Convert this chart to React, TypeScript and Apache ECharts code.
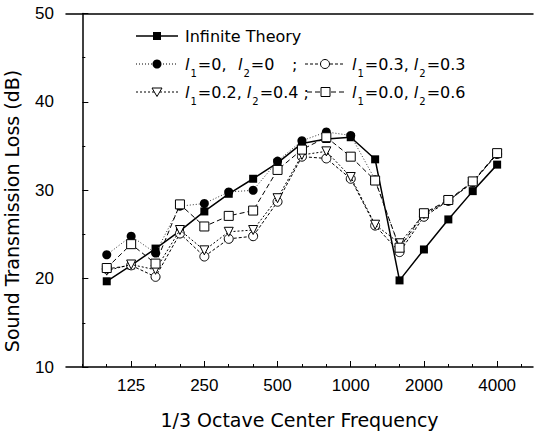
import React, { useEffect, useRef } from "react";
import * as echarts from "echarts";

// 1/3-octave bands along the axis (tick positions)
const axisFreqs = [80, 100, 125, 160, 200, 250, 315, 400, 500, 630, 800, 1000, 1250, 1600, 2000, 2500, 3150, 4000, 5000];
// measured bands
const dataFreqs = [100, 125, 160, 200, 250, 315, 400, 500, 630, 800, 1000, 1250, 1600, 2000, 2500, 3150, 4000];
const tickLabels = ["125", "250", "500", "1000", "2000", "4000"];
const yTicks = [10, 20, 30, 40, 50];

const infiniteTheory = [19.7, 21.5, 23.4, 25.4, 27.6, 29.6, 31.3, 33.1, 35.3, 35.8, 36.0, 33.5, 19.8, 23.3, 26.7, 29.9, 32.9];
const l1_0_l2_0 = [22.7, 24.8, 22.9, 28.2, 28.5, 29.8, 30.0, 33.3, 35.6, 36.6, 36.2, 31.2, 23.4, 27.2, 28.8, 30.9, 34.1];
const l1_03_l2_03 = [21.1, 21.5, 20.2, 25.1, 22.5, 24.5, 24.8, 28.7, 33.8, 33.6, 31.3, 26.0, 23.0, 27.0, 28.8, 30.9, 34.1];
const l1_02_l2_04 = [20.9, 21.6, 21.0, 25.5, 23.2, 25.3, 25.5, 29.1, 34.0, 34.4, 31.5, 26.1, 24.0, 27.3, 28.8, 30.9, 34.1];
const l1_00_l2_06 = [21.2, 23.9, 21.7, 28.4, 25.9, 27.1, 27.7, 32.3, 34.6, 36.0, 33.8, 31.1, 23.5, 27.4, 28.9, 31.0, 34.2];

const NUM_FONT = "Liberation Sans";
const TXT_FONT = "DejaVu Sans";

const toPts = (vals: number[]) => vals.map((v, i) => [axisFreqs.indexOf(dataFreqs[i]), v]);

const SUB_PAD = 18;
const rich = {
  t: { fontFamily: TXT_FONT, fontSize: 16, color: "#000", lineHeight: 20 },
  i: { fontFamily: TXT_FONT, fontSize: 16, fontStyle: "italic", color: "#000", lineHeight: 20 },
  s: { fontFamily: TXT_FONT, fontSize: 10, color: "#000", lineHeight: 10, padding: [SUB_PAD, 1, 0, 1] },
};

function legendText(x: number, y: number, text: string) {
  return {
    type: "text",
    x,
    y: y - 10,
    style: { text, rich, verticalAlign: "top", align: "left", fontFamily: TXT_FONT, fontSize: 16, fill: "#000" },
  };
}

function legendLine(x1: number, x2: number, y: number, dash: any, width = 1) {
  return {
    type: "line",
    shape: { x1, y1: y, x2, y2: y },
    style: { stroke: "#000", lineWidth: width, lineDash: dash },
  };
}

export default function App() {
  const ref = useRef<HTMLDivElement>(null);
  useEffect(() => {
    if (!ref.current) return;
    const chart = echarts.init(ref.current, undefined, { renderer: "svg" });
    const xMin = -0.67;
    const xMax = 18.47;
    const majorIdx = tickLabels.map((l) => axisFreqs.indexOf(Number(l)));
    const allIdx = axisFreqs.map((_, i) => i);

    const r1 = 36, r2 = 64, r3 = 92;
    const graphic: any[] = [
      {
        type: "text",
        x: 12,
        y: 211,
        rotation: Math.PI / 2,
        style: { text: "Sound Transmission Loss (dB)", fontFamily: TXT_FONT, fontSize: 19, fill: "#000", align: "center", verticalAlign: "middle" },
      },
      // row 1
      legendLine(136, 178, r1, null, 1.5),
      { type: "rect", shape: { x: 153, y: r1 - 4, width: 8, height: 8 }, style: { fill: "#000" } },
      legendText(185, r1, "{t|Infinite Theory}"),
      // row 2
      legendLine(136, 178, r2, [1, 2], 1),
      { type: "circle", shape: { cx: 157, cy: r2, r: 4.5 }, style: { fill: "#000" } },
      legendText(185, r2, "{i|l}{s|1}{t|=0,}"),
      legendText(238, r2, "{i|l}{s|2}{t|=0}"),
      legendText(292, r2, "{t|;}"),
      legendLine(305, 345, r2, [3, 2], 1),
      { type: "circle", shape: { cx: 325, cy: r2, r: 4.5 }, style: { fill: "#fff", stroke: "#000", lineWidth: 1 } },
      legendText(352, r2, "{i|l}{s|1}{t|=0.3, }{i|l}{s|2}{t|=0.3}"),
      // row 3
      legendLine(136, 178, r3, [2, 2], 1),
      { type: "polygon", shape: { points: [[152, r3 - 4], [162, r3 - 4], [157, r3 + 4.5]] }, style: { fill: "#fff", stroke: "#000", lineWidth: 1 } },
      legendText(185, r3, "{i|l}{s|1}{t|=0.2, }{i|l}{s|2}{t|=0.4 ;}"),
      legendLine(307, 345, r3, [5, 3], 1),
      { type: "rect", shape: { x: 321, y: r3 - 4.5, width: 9, height: 9 }, style: { fill: "#fff", stroke: "#000", lineWidth: 1 } },
      legendText(352, r3, "{i|l}{s|1}{t|=0.0, }{i|l}{s|2}{t|=0.6}"),
    ];

    const axisLineStyle = { color: "#000", width: 1.5 };

    chart.setOption({
      animation: false,
      backgroundColor: "#fff",
      grid: { left: 66, right: 2, top: 13.5, bottom: 64, containLabel: false, outerBoundsMode: "none" },
      xAxis: [
        {
          type: "value",
          position: "bottom",
          min: xMin,
          max: xMax,
          name: "1/3 Octave Center Frequency",
          nameLocation: "middle",
          nameGap: 43,
          nameTextStyle: { fontFamily: TXT_FONT, fontSize: 19, color: "#000" },
          axisLine: { show: true, lineStyle: axisLineStyle },
          axisTick: { show: true, inside: true, length: 6, customValues: majorIdx, lineStyle: { color: "#000", width: 1 } },
          axisLabel: {
            show: true,
            customValues: majorIdx,
            formatter: (v: number) => String(axisFreqs[Math.round(v)]),
            fontFamily: NUM_FONT,
            fontSize: 17,
            color: "#000",
            margin: 10,
          },
          splitLine: { show: false },
        },
        {
          type: "value",
          position: "bottom",
          min: xMin,
          max: xMax,
          axisLine: { show: false },
          axisTick: { show: true, inside: true, length: 3, customValues: allIdx, lineStyle: { color: "#000", width: 1 } },
          axisLabel: { show: false },
          splitLine: { show: false },
        },
        {
          type: "value",
          position: "top",
          min: xMin,
          max: xMax,
          axisLine: { show: true, lineStyle: axisLineStyle },
          axisTick: { show: false },
          axisLabel: { show: false },
          splitLine: { show: false },
        },
      ],
      yAxis: {
        type: "value",
        min: yTicks[0],
        max: yTicks[yTicks.length - 1],
        interval: 10,
        axisLine: { show: true, lineStyle: axisLineStyle },
        axisTick: { show: true, inside: true, length: 6, lineStyle: { color: "#000", width: 1 } },
        minorTick: { show: true, splitNumber: 2, length: 3, lineStyle: { color: "#000", width: 1 } },
        axisLabel: { fontFamily: NUM_FONT, fontSize: 17, color: "#000", margin: 12 },
        splitLine: { show: false },
      },
      series: [
        {
          name: "Infinite Theory",
          type: "line",
          data: toPts(infiniteTheory),
          symbol: "rect",
          symbolSize: 8,
          lineStyle: { color: "#000", width: 1.5 },
          itemStyle: { color: "#000" },
          z: 2,
        },
        {
          name: "l1=0, l2=0",
          type: "line",
          data: toPts(l1_0_l2_0),
          symbol: "circle",
          symbolSize: 9,
          lineStyle: { color: "#333", width: 1, type: [1, 2] },
          itemStyle: { color: "#000" },
          z: 3,
        },
        {
          name: "l1=0.3, l2=0.3",
          type: "line",
          data: toPts(l1_03_l2_03),
          symbol: "circle",
          symbolSize: 9,
          lineStyle: { color: "#000", width: 1, type: [3, 2] },
          itemStyle: { color: "#fff", borderColor: "#000", borderWidth: 1 },
          z: 4,
        },
        {
          name: "l1=0.2, l2=0.4",
          type: "line",
          data: toPts(l1_02_l2_04),
          symbol: "triangle",
          symbolRotate: 180,
          symbolSize: 9,
          lineStyle: { color: "#000", width: 1, type: [2, 2] },
          itemStyle: { color: "#fff", borderColor: "#000", borderWidth: 1 },
          z: 5,
        },
        {
          name: "l1=0.0, l2=0.6",
          type: "line",
          data: toPts(l1_00_l2_06),
          symbol: "rect",
          symbolSize: 9,
          lineStyle: { color: "#000", width: 1, type: [5, 3] },
          itemStyle: { color: "#fff", borderColor: "#000", borderWidth: 1 },
          z: 6,
        },
      ],
      graphic,
    });
    return () => chart.dispose();
  }, []);
  return <div ref={ref} style={{ position: "fixed", left: 0, top: 0, width: 535, height: 431, background: "#fff" }} />;
}
